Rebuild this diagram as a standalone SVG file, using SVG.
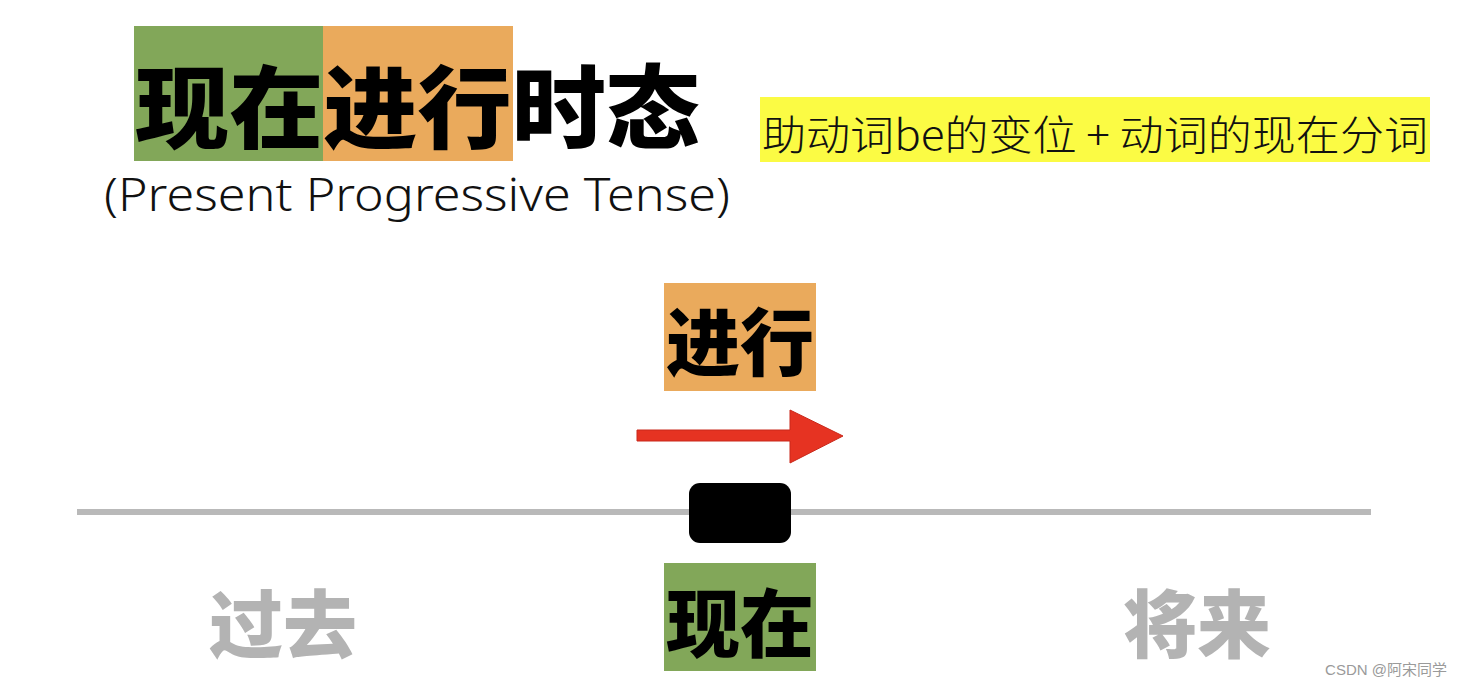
<svg xmlns="http://www.w3.org/2000/svg" width="1464" height="688" viewBox="0 0 1464 688">
<style>
.cjkb{font-family:"Noto Sans CJK SC","Noto Sans CJK JP",sans-serif;font-weight:900}
.cjk{font-family:"Noto Sans CJK SC","Noto Sans CJK JP",sans-serif;font-weight:300}
.green{fill:#82a759}
.orange{fill:#eaaa5c}
</style>
<rect width="1464" height="688" fill="#ffffff"/>
<g id="title">
<rect class="green" x="134" y="26" width="190" height="135"/>
<rect class="orange" x="323" y="26" width="190" height="135"/>
<text class="cjkb" x="135" y="141" font-size="90" fill="#000" textLength="565" lengthAdjust="spacingAndGlyphs">现在进行时态</text>
<text x="104" y="211" font-family="'Noto Sans',sans-serif" font-weight="300" font-size="45" fill="#111" textLength="626" lengthAdjust="spacingAndGlyphs">(Present Progressive Tense)</text>
</g>
<g id="formula">
<rect x="760" y="97" width="670" height="65" fill="#fbfb44"/>
<text class="cjk" x="762" y="150" font-size="41" fill="#111" textLength="666" lengthAdjust="spacingAndGlyphs">助动词be的变位 + 动词的现在分词</text>
</g>
<g id="connectors">
<line x1="77" y1="512" x2="1371" y2="512" stroke="#b9b9b9" stroke-width="6"/>
<polygon points="637,430 790,430 790,410 843,436 790,463 790,441 637,441" fill="#e63322" stroke="#c9281a" stroke-width="1"/>
</g>
<g id="progressive">
<rect class="orange" x="664" y="283" width="152" height="108"/>
<text class="cjkb" x="740" y="370" font-size="74" text-anchor="middle" fill="#000">进行</text>
</g>
<g id="now-marker">
<rect x="689" y="483" width="102" height="60" rx="11" fill="#000"/>
</g>
<g id="now">
<rect class="green" x="664" y="563" width="152" height="108"/>
<text class="cjkb" x="740" y="651" font-size="74" text-anchor="middle" fill="#000">现在</text>
</g>
<g id="past">
<text class="cjkb" x="283" y="652" font-size="74" text-anchor="middle" fill="#b3b3b3">过去</text>
</g>
<g id="future">
<text class="cjkb" x="1197" y="652" font-size="74" text-anchor="middle" fill="#b3b3b3">将来</text>
</g>
<text x="1447" y="675" font-family="'Liberation Sans','Noto Sans CJK SC',sans-serif" font-size="15" fill="#9a9a9a" text-anchor="end">CSDN @阿宋同学</text>
</svg>
